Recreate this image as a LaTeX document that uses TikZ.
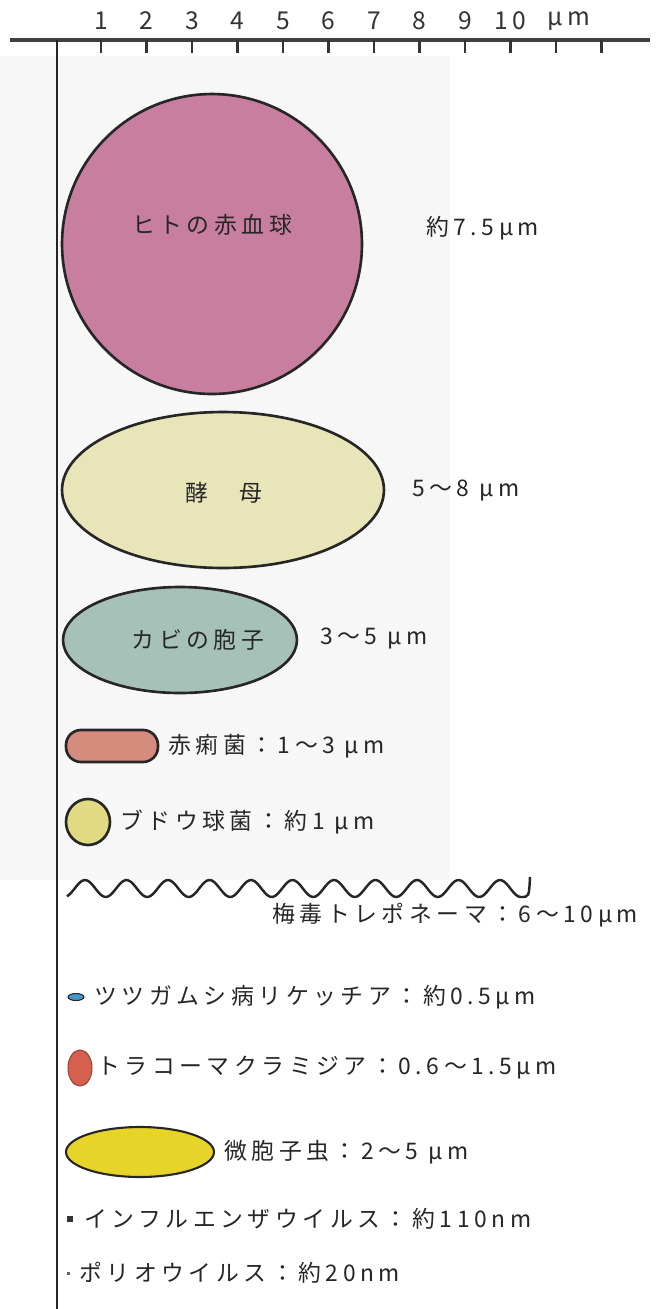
\documentclass[tikz,border=0pt]{standalone}
\usepackage{fontspec}
\setmainfont{Noto Sans CJK JP}[LetterSpace=20]
\usetikzlibrary{shapes.geometric}

\definecolor{rbc}{RGB}{200,126,158}
\definecolor{yeast}{RGB}{232,230,184}
\definecolor{mold}{RGB}{166,194,184}
\definecolor{shigella}{RGB}{214,140,124}
\definecolor{staph}{RGB}{226,218,130}
\definecolor{rickettsia}{RGB}{70,150,205}
\definecolor{chlamydia}{RGB}{213,96,78}
\definecolor{micro}{RGB}{230,212,40}

\newcommand{\lblfont}{\fontsize{13pt}{15pt}\selectfont}
\newcommand{\rulerfnt}{\fontsize{14pt}{16pt}\selectfont}

\begin{document}
\begin{tikzpicture}[x=0.02cm, y=-0.02cm,
    cell/.style={draw=black!85, line width=1.5pt, inner sep=0pt},
    name label/.style={font=\lblfont, text=black!85},
    size label/.style={font=\lblfont, text=black!85, anchor=west},
    tick label/.style={font=\rulerfnt, text=black!80},
    ruler/.style={line width=2.2pt, black!75},
    ruler tick/.style={line width=1.6pt, black!80},
    wave/.style={line width=1.4pt, black!85}]

  \useasboundingbox (0,0) rectangle (667,1309);
  % faint paper tone behind the upper cells
  \fill[gray!6] (0,56) rectangle (450,880);

  % ===== Scale (micrometres) =====
  \draw[ruler] (10,40) -- (650,40);
  \foreach \k in {1,...,12}
    \draw[ruler tick] ({101+45.5*(\k-1)},40) -- ++(0,13);
  \foreach \k in {1,...,10}
    \node[tick label] at ({101+45.5*(\k-1)},21) {\k};
  \node[tick label] (unit) at (569,21) {µm};

  % vertical reference edge
  \draw[line width=1.6pt, black!85] (57,40) -- (57,1309);

  % ===== Large cells =====
  \node[cell, circle, minimum size=6cm, fill=rbc] (rbc) at (212,244) {};
  \node[name label] (rbc name) at (212,225) {ヒトの赤血球};
  \node[size label] (rbc size) at (420,228) {約7.5µm};

  \node[cell, ellipse, minimum width=6.44cm, minimum height=3.12cm, fill=yeast] (yeast) at (223,490) {};
  \node[name label] (yeast name) at (224,493) {酵　母};
  \node[size label] (yeast size) at (406,490) {5～8 µm};

  \node[cell, ellipse, minimum width=4.68cm, minimum height=2.12cm, fill=mold] (mold) at (180,640) {};
  \node[name label] (mold name) at (198,640) {カビの胞子};
  \node[size label] (mold size) at (314,638) {3～5 µm};

  % ===== Bacteria =====
  \node[cell, rectangle, rounded corners=0.3cm, minimum width=1.84cm, minimum height=0.64cm, fill=shigella] (shigella) at (112,746) {};
  \node[size label] (shigella size) at (162,746) {赤痢菌：1～3 µm};

  \node[cell, ellipse, minimum width=0.88cm, minimum height=0.92cm, fill=staph] (staph) at (88,822) {};
  \node[size label] (staph size) at (114,822) {ブドウ球菌：約1 µm};

  % spirochete, with the hooked tail at its right end
  \draw[wave] plot[domain=67:521, samples=180, smooth]
      (\x, {888.5-8.5*cos((\x-85)/41.5*360)})
      .. controls (529,897) .. (530,877);
  \node[size label] (treponema size) at (266,915) {梅毒トレポネーマ：6～10µm};

  % ===== Small organisms =====
  \node[cell, ellipse, line width=0.6pt, minimum width=0.32cm, minimum height=0.14cm, fill=rickettsia] (rickettsia) at (76,997) {};
  \node[size label] (rickettsia size) at (88,997) {ツツガムシ病リケッチア：約0.5µm};

  \node[cell, ellipse, draw=chlamydia!70!black, line width=0.6pt, minimum width=0.48cm, minimum height=0.72cm, fill=chlamydia] (chlamydia) at (80,1068) {};
  \node[size label] (chlamydia size) at (91,1068) {トラコーマクラミジア：0.6～1.5µm};

  \node[cell, ellipse, line width=1.2pt, minimum width=2.96cm, minimum height=1.0cm, fill=micro] (micro) at (140,1152) {};
  \node[size label] (micro size) at (218,1152) {微胞子虫：2～5 µm};

  % ===== Viruses =====
  \node[fill=black!80, minimum size=0.12cm, inner sep=0pt] (flu) at (70,1219) {};
  \node[size label] (flu size) at (78,1219) {インフルエンザウイルス：約110nm};

  \node[fill=black!60, minimum size=0.06cm, inner sep=0pt] (polio) at (68,1273) {};
  \node[size label] (polio size) at (73,1273) {ポリオウイルス：約20nm};

\end{tikzpicture}
\end{document}
